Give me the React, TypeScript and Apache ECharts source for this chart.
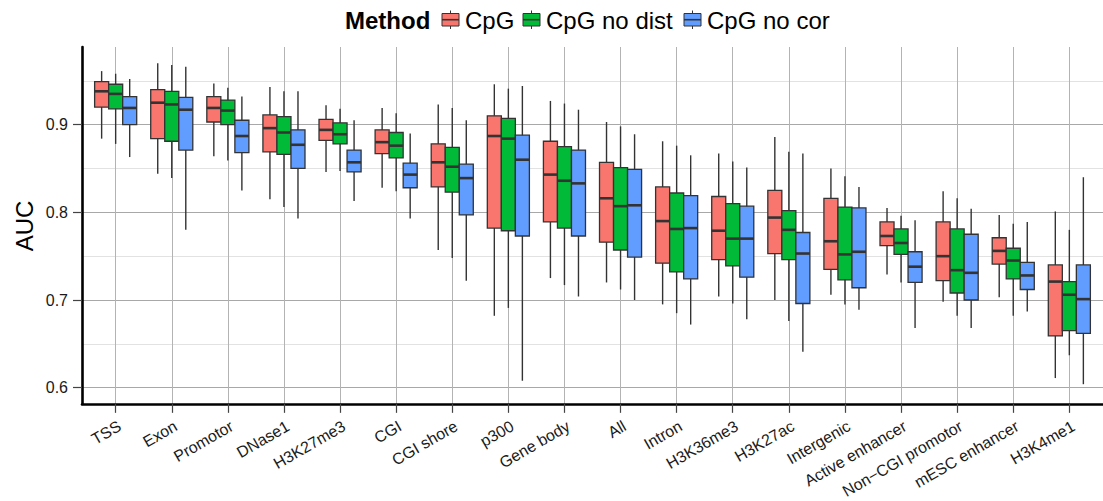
import React, { useEffect, useRef } from "react";
import * as echarts from "echarts";

const categories = [
  "TSS", "Exon", "Promotor", "DNase1", "H3K27me3", "CGI", "CGI shore", "p300",
  "Gene body", "All", "Intron", "H3K36me3", "H3K27ac", "Intergenic",
  "Active enhancer", "Non\u2212CGI promotor", "mESC enhancer", "H3K4me1",
];

const methods = ["CpG", "CpG no dist", "CpG no cor"];
const methodColors = ["#F8766D", "#00BA38", "#619CFF"];

// [lower whisker, Q1, median, Q3, upper whisker]
const cpgStats = [
  [0.884, 0.920, 0.938, 0.949, 0.961],
  [0.844, 0.884, 0.925, 0.940, 0.970],
  [0.864, 0.903, 0.919, 0.932, 0.947],
  [0.815, 0.869, 0.896, 0.911, 0.943],
  [0.846, 0.882, 0.894, 0.906, 0.922],
  [0.828, 0.867, 0.880, 0.894, 0.919],
  [0.757, 0.829, 0.857, 0.878, 0.923],
  [0.682, 0.782, 0.887, 0.910, 0.946],
  [0.725, 0.789, 0.843, 0.881, 0.927],
  [0.720, 0.766, 0.816, 0.857, 0.903],
  [0.695, 0.742, 0.790, 0.829, 0.881],
  [0.704, 0.746, 0.779, 0.818, 0.867],
  [0.700, 0.753, 0.794, 0.825, 0.886],
  [0.706, 0.735, 0.767, 0.816, 0.850],
  [0.729, 0.762, 0.773, 0.789, 0.805],
  [0.698, 0.722, 0.750, 0.789, 0.824],
  [0.703, 0.741, 0.756, 0.771, 0.797],
  [0.611, 0.659, 0.721, 0.740, 0.801],
];

const noDistStats = [
  [0.878, 0.918, 0.935, 0.946, 0.958],
  [0.839, 0.881, 0.923, 0.938, 0.968],
  [0.859, 0.900, 0.916, 0.928, 0.942],
  [0.806, 0.866, 0.891, 0.909, 0.938],
  [0.847, 0.878, 0.889, 0.902, 0.918],
  [0.824, 0.862, 0.876, 0.891, 0.913],
  [0.748, 0.823, 0.852, 0.874, 0.919],
  [0.691, 0.779, 0.884, 0.907, 0.941],
  [0.717, 0.782, 0.836, 0.875, 0.924],
  [0.712, 0.757, 0.807, 0.851, 0.898],
  [0.685, 0.732, 0.781, 0.822, 0.876],
  [0.696, 0.739, 0.770, 0.810, 0.858],
  [0.676, 0.746, 0.780, 0.802, 0.869],
  [0.695, 0.723, 0.752, 0.806, 0.841],
  [0.720, 0.752, 0.765, 0.781, 0.796],
  [0.682, 0.708, 0.734, 0.781, 0.816],
  [0.682, 0.724, 0.745, 0.759, 0.787],
  [0.637, 0.665, 0.706, 0.721, 0.780],
];

const noCorStats = [
  [0.863, 0.900, 0.919, 0.932, 0.952],
  [0.780, 0.871, 0.917, 0.931, 0.966],
  [0.825, 0.868, 0.887, 0.905, 0.932],
  [0.793, 0.850, 0.877, 0.894, 0.938],
  [0.813, 0.846, 0.857, 0.871, 0.905],
  [0.793, 0.828, 0.843, 0.856, 0.890],
  [0.722, 0.797, 0.839, 0.855, 0.905],
  [0.608, 0.773, 0.860, 0.888, 0.944],
  [0.704, 0.773, 0.833, 0.871, 0.917],
  [0.700, 0.749, 0.808, 0.849, 0.889],
  [0.672, 0.724, 0.782, 0.819, 0.865],
  [0.678, 0.726, 0.770, 0.807, 0.851],
  [0.641, 0.696, 0.753, 0.777, 0.867],
  [0.689, 0.714, 0.755, 0.805, 0.829],
  [0.668, 0.720, 0.738, 0.755, 0.791],
  [0.668, 0.700, 0.731, 0.775, 0.804],
  [0.687, 0.712, 0.728, 0.743, 0.789],
  [0.604, 0.662, 0.701, 0.740, 0.840],
];

const majorTicks = [0.6, 0.7, 0.8, 0.9];
const minorTicks = [0.65, 0.75, 0.85, 0.95];
const yMin = 0.5816;
const yMax = 0.9885;

const FONT = "'Liberation Sans', Arial, Helvetica, sans-serif";

export default function App() {
  const ref = useRef<HTMLDivElement>(null);

  useEffect(() => {
    if (!ref.current) return;
    const chart = echarts.init(ref.current, null, { renderer: "svg" });
    const allStats = [cpgStats, noDistStats, noCorStats];
    const offsets = [-0.25, 0, 0.25];
    const catIdx = categories.map((_, i) => i);

    const series = methods.map((name, m) => ({
      type: "custom",
      name,
      clip: false,
      encode: { x: 0, y: [1, 2, 3, 4, 5] },
      data: allStats[m].map((s, i) => [i, ...s]),
      renderItem: (params: any, api: any) => {
        const x = api.value(0) + offsets[m];
        const lo = api.coord([x, api.value(1)]);
        const q1 = api.coord([x, api.value(2)]);
        const med = api.coord([x, api.value(3)]);
        const q3 = api.coord([x, api.value(4)]);
        const hi = api.coord([x, api.value(5)]);
        const w = api.size([0.25, 0])[0];
        return {
          type: "group",
          children: [
            {
              type: "line",
              shape: { x1: lo[0], y1: lo[1], x2: hi[0], y2: hi[1] },
              style: { stroke: "#333333", lineWidth: 1.4 },
            },
            {
              type: "rect",
              shape: { x: q3[0] - w / 2, y: q3[1], width: w, height: q1[1] - q3[1] },
              style: { fill: methodColors[m], stroke: "#333333", lineWidth: 1.3 },
            },
            {
              type: "line",
              shape: { x1: med[0] - w / 2, y1: med[1], x2: med[0] + w / 2, y2: med[1] },
              style: { stroke: "#333333", lineWidth: 2.6 },
            },
          ],
        };
      },
    }));

    const keyX = [442, 523, 684];
    const textX = [465, 546, 707];
    const legendEls: any[] = [
      {
        type: "text",
        x: 345,
        y: 20,
        style: {
          text: "Method",
          font: `bold 24px ${FONT}`,
          fill: "#000",
          textAlign: "left",
          textVerticalAlign: "middle",
        },
      },
    ];
    methods.forEach((name, m) => {
      const kx = keyX[m];
      legendEls.push(
        { type: "line", shape: { x1: kx + 8.5, y1: 10.5, x2: kx + 8.5, y2: 29 }, style: { stroke: "#333", lineWidth: 1 } },
        { type: "rect", shape: { x: kx, y: 13.5, width: 17, height: 12.5 }, style: { fill: methodColors[m], stroke: "#333", lineWidth: 1 } },
        { type: "line", shape: { x1: kx, y1: 19.7, x2: kx + 17, y2: 19.7 }, style: { stroke: "#333", lineWidth: 1.6 } },
        {
          type: "text",
          x: textX[m],
          y: 20,
          style: { text: name, font: `24px ${FONT}`, fill: "#000", textAlign: "left", textVerticalAlign: "middle" },
        }
      );
    });
    legendEls.push({
      type: "text",
      x: 24,
      y: 226,
      rotation: Math.PI / 2,
      style: { text: "AUC", font: `24px ${FONT}`, fill: "#000", textAlign: "center", textVerticalAlign: "middle" },
    });

    chart.setOption({
      animation: false,
      backgroundColor: "#ffffff",
      grid: { left: 82, right: -4.5, top: 47, bottom: 95.5, containLabel: false },
      xAxis: {
        type: "value",
        min: -0.6,
        max: 17.6,
        axisLine: { show: true, onZero: false, lineStyle: { color: "#000", width: 2.6 } },
        axisTick: { show: true, customValues: catIdx, length: 9, lineStyle: { color: "#444", width: 1.2 } },
        axisLabel: {
          customValues: catIdx,
          formatter: (v: number) => categories[Math.round(v)],
          rotate: 30,
          align: "right",
          verticalAlign: "top",
          fontSize: 16,
          fontFamily: FONT,
          color: "#1a1a1a",
          margin: 14,
        },
        splitLine: { show: true, lineStyle: { color: "#b3b3b3", width: 1 } },
      },
      yAxis: [
        {
          type: "value",
          min: yMin,
          max: yMax,
          axisLine: { show: true, onZero: false, lineStyle: { color: "#000", width: 2.6 } },
          axisTick: { show: true, customValues: majorTicks, length: 9, lineStyle: { color: "#444", width: 1.2 } },
          axisLabel: {
            customValues: majorTicks,
            formatter: (v: number) => v.toFixed(1),
            fontSize: 16,
            fontFamily: FONT,
            color: "#1a1a1a",
            margin: 14,
          },
          splitLine: { show: true, lineStyle: { color: "#a8a8a8", width: 1 } },
        },
        {
          type: "value",
          min: yMin,
          max: yMax,
          axisLine: { show: false },
          axisTick: { show: false, customValues: minorTicks },
          axisLabel: { show: false, customValues: minorTicks },
          splitLine: { show: true, lineStyle: { color: "#e2e2e2", width: 1 } },
        },
      ],
      graphic: legendEls,
      series,
    });

    return () => chart.dispose();
  }, []);

  return (
    <div
      ref={ref}
      style={{ position: "absolute", left: 0, top: 0, width: 1103, height: 501, background: "#fff" }}
    />
  );
}
